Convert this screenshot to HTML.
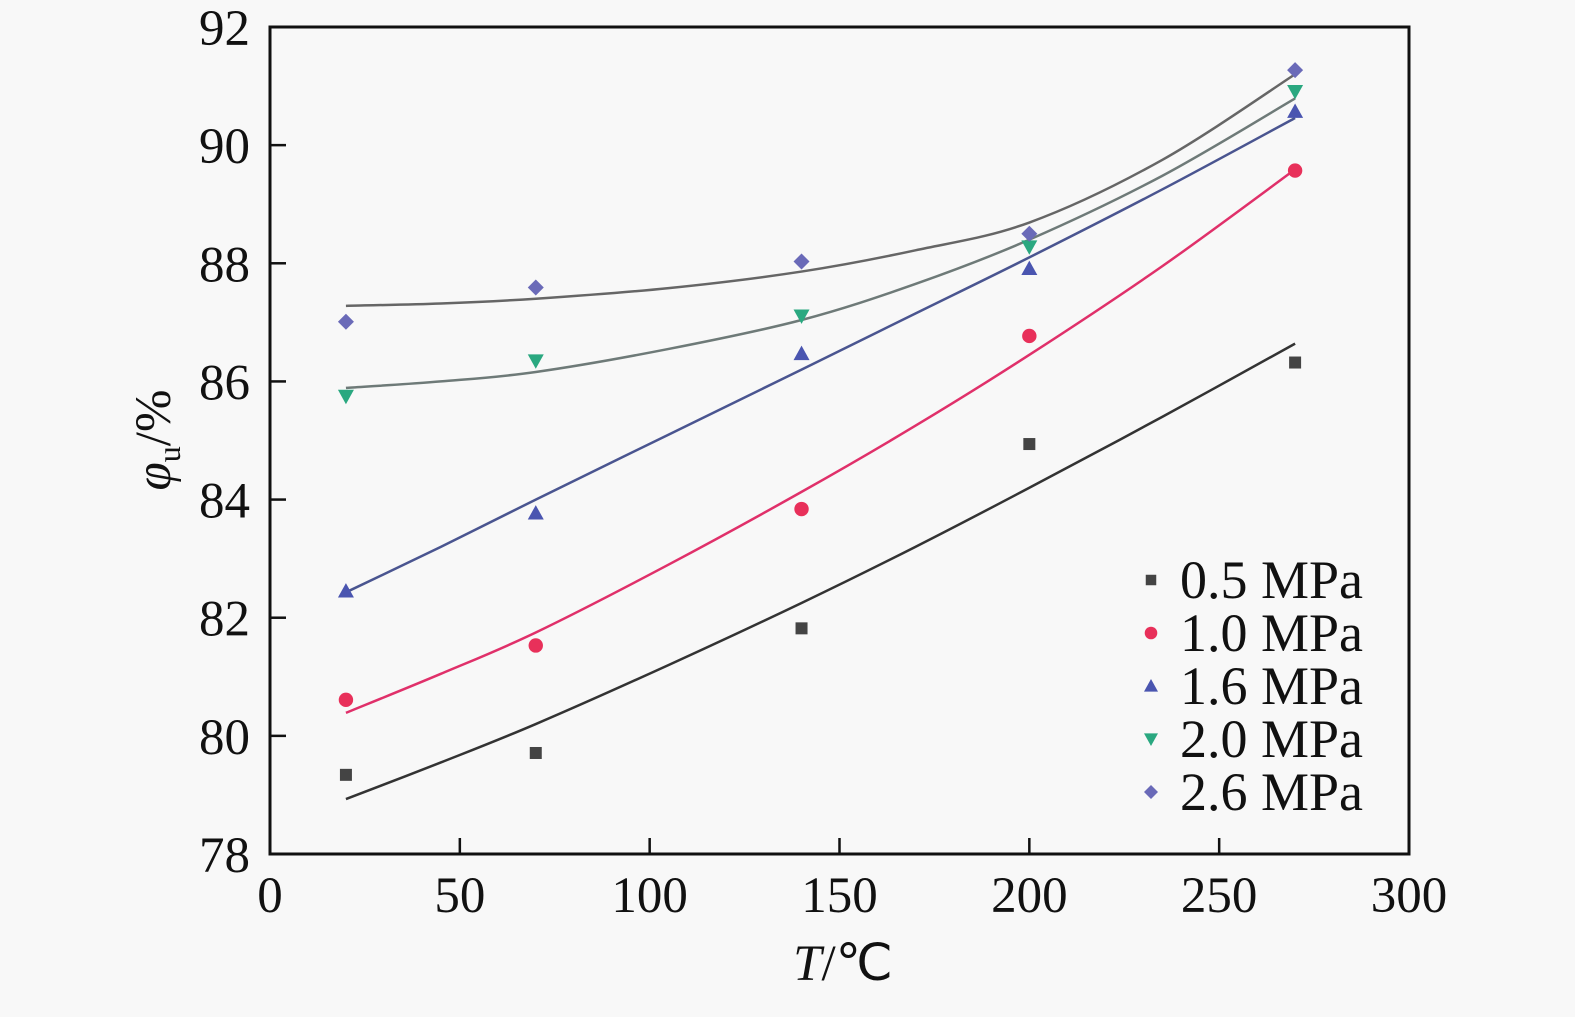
<!DOCTYPE html>
<html><head><meta charset="utf-8">
<style>
html,body{margin:0;padding:0;background:#f8f8f8;}
svg{display:block;}
text{font-family:"Liberation Serif",serif;fill:#111;}
</style></head>
<body>
<svg id="chart" width="1575" height="1017" viewBox="0 0 1575 1017" xmlns="http://www.w3.org/2000/svg">
<rect width="1575" height="1017" fill="#f8f8f8"/>
<g id="plot"></g>
</svg>
<script>
const temps = [20, 70, 140, 200, 270];
const seriesNames = ["0.5 MPa", "1.0 MPa", "1.6 MPa", "2.0 MPa", "2.6 MPa"];
const pts05 = [79.34, 79.71, 81.82, 84.94, 86.32];
const pts10 = [80.61, 81.53, 83.84, 86.77, 89.57];
const pts16 = [82.45, 83.77, 86.47, 87.91, 90.57];
const pts20 = [85.75, 86.35, 87.11, 88.28, 90.91];
const pts26 = [87.01, 87.59, 88.03, 88.50, 91.27];
const fitT = [20, 45, 70, 105, 140, 170, 200, 235, 270];
const fit05 = [78.93, 79.55, 80.20, 81.20, 82.25, 83.20, 84.20, 85.40, 86.64];
const fit10 = [80.39, 81.05, 81.75, 82.90, 84.13, 85.25, 86.45, 87.95, 89.59];
const fit16 = [82.43, 83.20, 84.00, 85.10, 86.20, 87.15, 88.10, 89.25, 90.46];
const fit20 = [85.89, 86.00, 86.16, 86.55, 87.04, 87.65, 88.40, 89.48, 90.79];
const fit26 = [87.28, 87.32, 87.40, 87.58, 87.86, 88.22, 88.69, 89.75, 91.20];
const xTicks = [0, 50, 100, 150, 200, 250, 300];
const yTicks = [78, 80, 82, 84, 86, 88, 90, 92];

const X0=270, X1=1409, Y0=854, Y1=27;
const xs = t => X0 + (t-0)/300*(X1-X0);
const ys = v => Y0 - (v-78)/14*(Y0-Y1);
const NS="http://www.w3.org/2000/svg";
const g=document.getElementById('plot');
function mk(tag, attrs, parent){const e=document.createElementNS(NS,tag);for(const k in attrs)e.setAttribute(k,attrs[k]);(parent||g).appendChild(e);return e;}

const pts=[pts05,pts10,pts16,pts20,pts26];
const fits=[fit05,fit10,fit16,fit20,fit26];
const lineCols=["#333","#e0306a","#4a5590","#6e7a78","#666"];
const markCols=["#444","#e8305a","#4a55b0","#2aa880","#6a6ab8"];
const markers=["square","circle","up","down","diamond"];

const box=mk('rect',{x:X0,y:Y1,width:X1-X0,height:Y0-Y1,fill:'none',stroke:'#111','stroke-width':3});



xTicks.forEach(t=>{
  const l=mk('line',{x1:xs(t),x2:xs(t),y1:Y0,y2:Y0-16,stroke:'#111','stroke-width':2.5});
  
  
  const tx=mk('text',{x:xs(t),y:912,'text-anchor':'middle','font-size':51});
  tx.textContent=t;
  
  
});
yTicks.forEach(v=>{
  const l=mk('line',{x1:X0,x2:X0+16,y1:ys(v),y2:ys(v),stroke:'#111','stroke-width':2.5});
  
  
  const tx=mk('text',{x:250,y:ys(v)+18,'text-anchor':'end','font-size':51});
  tx.textContent=v;
  
  
});

function curvePath(arr){
  const P=fitT.map((t,i)=>[xs(t),ys(arr[i])]);
  let d='M'+P[0][0]+','+P[0][1];
  for(let i=0;i<P.length-1;i++){
    const p0=P[Math.max(i-1,0)],p1=P[i],p2=P[i+1],p3=P[Math.min(i+2,P.length-1)];
    const c1=[p1[0]+(p2[0]-p0[0])/6,p1[1]+(p2[1]-p0[1])/6];
    const c2=[p2[0]-(p3[0]-p1[0])/6,p2[1]-(p3[1]-p1[1])/6];
    d+=' C'+c1+' '+c2+' '+p2;
  }
  return d;
}
function marker(type,cx,cy,col,s,parent){
  if(type==='square') return mk('rect',{x:cx-s*0.75,y:cy-s*0.75,width:s*1.5,height:s*1.5,fill:col},parent);
  if(type==='circle') return mk('circle',{cx:cx,cy:cy,r:s*0.9,fill:col},parent);
  if(type==='up') return mk('polygon',{points:`${cx},${cy-s} ${cx-s},${cy+s*0.8} ${cx+s},${cy+s*0.8}`,fill:col},parent);
  if(type==='down') return mk('polygon',{points:`${cx},${cy+s} ${cx-s},${cy-s*0.8} ${cx+s},${cy-s*0.8}`,fill:col},parent);
  return mk('polygon',{points:`${cx},${cy-s} ${cx+s},${cy} ${cx},${cy+s} ${cx-s},${cy}`,fill:col},parent);
}
fits.forEach((f,i)=>{
  const p=mk('path',{d:curvePath(f),fill:'none',stroke:lineCols[i],'stroke-width':2.5});
  
  
});
pts.forEach((arr,i)=>{
  arr.forEach((v,j)=>{
    const m=marker(markers[i],xs(temps[j]),ys(v),markCols[i],8);
    
    
  });
});
seriesNames.forEach((n,i)=>{
  const cy=580+i*53;
  const m=marker(markers[i],1151,cy,markCols[i],7);
  
  
  const tx=mk('text',{x:1180,y:cy+18,'font-size':54});
  tx.textContent=n;
  
  
});
const xt=mk('text',{x:843,y:980,'text-anchor':'middle','font-size':51});
xt.innerHTML='<tspan font-style="italic">T</tspan>/℃';


const yt=mk('text',{transform:'translate(170,440) rotate(-90)','text-anchor':'middle','font-size':51});
yt.innerHTML='<tspan font-style="italic">φ</tspan><tspan font-size="32" dy="10">u</tspan><tspan dy="-10">/%</tspan>';


</script>
</body></html>
